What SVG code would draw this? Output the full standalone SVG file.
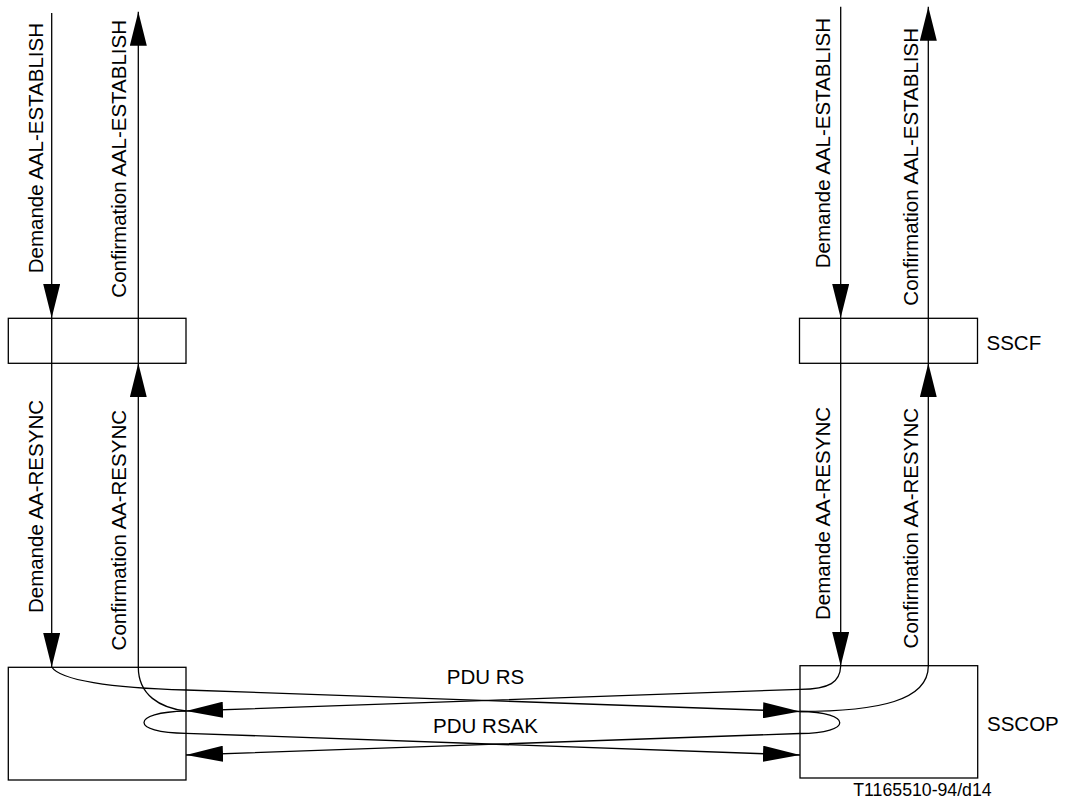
<svg xmlns="http://www.w3.org/2000/svg" width="1069" height="803" viewBox="0 0 1069 803">
  <style>
    .box { fill: none; stroke: #000; stroke-width: 1.3; }
    .ln { fill: none; stroke: #000; stroke-width: 1.3; }
    .av { marker-end: url(#ah-v); }
    .ah { marker-end: url(#ah-h); }
    text { font-family: "Liberation Sans", Arial, sans-serif; font-size: 20.5px; fill: #000; }
    .vt { text-anchor: end; }
    .note { font-size: 17.7px; }
  </style>
  <defs>
    <marker id="ah-v" markerUnits="userSpaceOnUse" viewBox="0 0 34 17" markerWidth="34" markerHeight="17" refX="34" refY="8.5" orient="auto">
      <path d="M0,0 L34,8.5 L0,17 Z" fill="#000"/>
    </marker>
    <marker id="ah-h" markerUnits="userSpaceOnUse" viewBox="0 0 37 16" markerWidth="37" markerHeight="16" refX="37" refY="8" orient="auto">
      <path d="M0,0 L37,8 L0,16 Z" fill="#000"/>
    </marker>
  </defs>

  <rect width="1069" height="803" fill="#fff"/>

  <g id="sscf-left">
    <rect class="box" x="8.3" y="318.3" width="177.7" height="45"/>
  </g>
  <g id="sscop-left">
    <rect class="box" x="8.3" y="667.3" width="177.7" height="112.7"/>
  </g>
  <g id="sscf-right">
    <rect class="box" x="799.5" y="318.3" width="178" height="45"/>
    <text x="986.5" y="350">SSCF</text>
  </g>
  <g id="sscop-right">
    <rect class="box" x="800" y="665.7" width="177.7" height="112.3"/>
    <text x="987" y="731">SSCOP</text>
  </g>

  <g id="connectors">
    <!-- left vertical lines -->
    <path class="ln av" d="M51.7,13 L51.7,318"/>
    <path class="ln av" d="M51.7,318 L51.7,667"/>
    <path class="ln av" d="M138.3,667 L138.3,363.3"/>
    <path class="ln av" d="M138.3,363.3 L138.3,11.7"/>
    <!-- right vertical lines -->
    <path class="ln av" d="M840.7,6.7 L840.7,318"/>
    <path class="ln av" d="M840.7,318 L840.7,666"/>
    <path class="ln av" d="M928.3,666 L928.3,363.3"/>
    <path class="ln av" d="M928.3,363.3 L928.3,6.7"/>

    <!-- PDU RS left to right -->
    <path class="ln ah" d="M51.7,667 C60,680 110,688 186,690 L800,711.5"/>
    <!-- PDU RS right to left -->
    <path class="ln ah" d="M840.7,666 C840,682 830,689.3 800,689.3 L186,711"/>
    <!-- left confirmation curve -->
    <path class="ln" d="M138.3,667 C138.3,695 160,708 186,711"/>
    <!-- right confirmation curve -->
    <path class="ln" d="M928.3,666 C928.3,700 880,711.5 800,711.5"/>
    <!-- PDU RSAK left loop to right -->
    <path class="ln ah" d="M186,711 C130,712 130,733.3 186,733.3 L800,755"/>
    <!-- PDU RSAK right loop to left -->
    <path class="ln ah" d="M800,711.5 C853,712 853,733.5 800,733.5 L186,755"/>
  </g>

  <g id="labels">
    <text class="vt" transform="translate(43,23) rotate(-90)">Demande AAL-ESTABLISH</text>
    <text class="vt" transform="translate(126,20) rotate(-90)">Confirmation AAL-ESTABLISH</text>
    <text class="vt" transform="translate(43,400) rotate(-90)">Demande AA-RESYNC</text>
    <text class="vt" transform="translate(126,410) rotate(-90)">Confirmation AA-RESYNC</text>
    <text class="vt" transform="translate(830,18) rotate(-90)">Demande AAL-ESTABLISH</text>
    <text class="vt" transform="translate(918,28) rotate(-90)">Confirmation AAL-ESTABLISH</text>
    <text class="vt" transform="translate(830,407) rotate(-90)">Demande AA-RESYNC</text>
    <text class="vt" transform="translate(918,408) rotate(-90)">Confirmation AA-RESYNC</text>
    <text x="485.5" y="684" text-anchor="middle" font-size="21">PDU RS</text>
    <text x="485.5" y="732.7" text-anchor="middle" font-size="21">PDU RSAK</text>
    <text class="note" x="853.3" y="796">T1165510-94/d14</text>
  </g>
</svg>
